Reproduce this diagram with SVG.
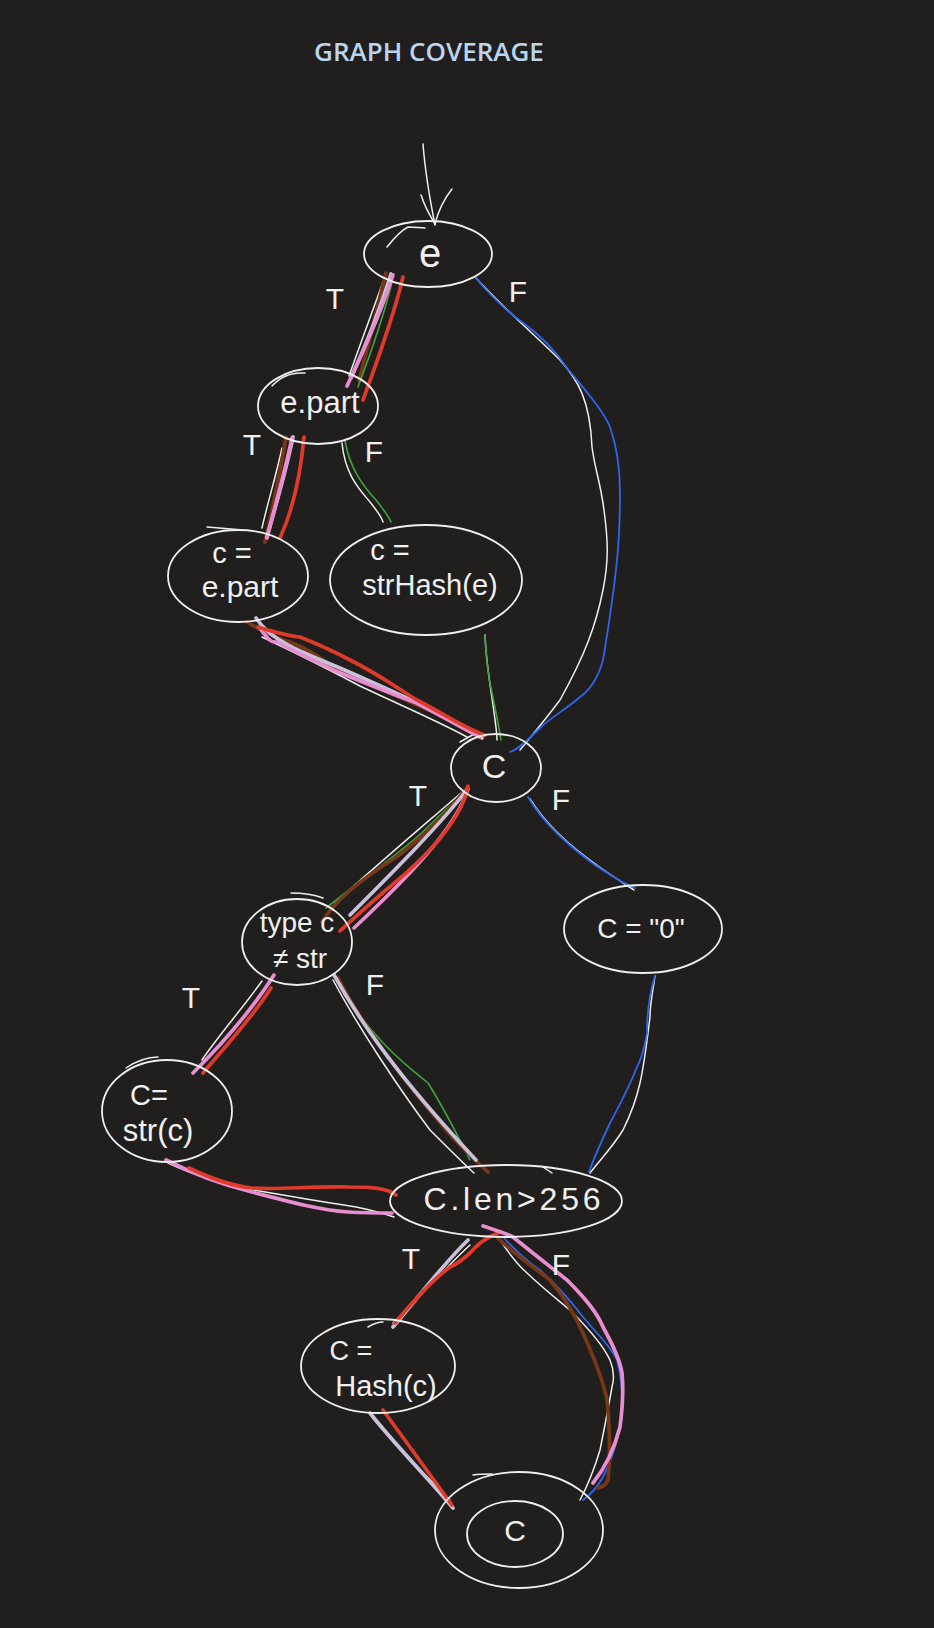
<svg xmlns="http://www.w3.org/2000/svg" width="934" height="1628" viewBox="0 0 934 1628">
<style>
.bg{fill:#201f1e}
.title{font-family:"Open Sans","Liberation Sans",sans-serif;font-size:26px;font-weight:600;fill:#bcd5ee}
.node{fill:none;stroke:#efefef;stroke-width:1.8}
.hw{font-family:"Liberation Sans","DejaVu Sans",sans-serif;fill:#f0f0f0;text-anchor:middle}
.lbl{font-family:"Liberation Sans","DejaVu Sans",sans-serif;font-size:30px;fill:#f0f0f0;text-anchor:middle}
.e{fill:none;stroke-linecap:round;stroke-linejoin:round}
.w{stroke:#eeeeee;stroke-width:1.5}
.bl{stroke:#2e66ee;stroke-width:1.8}
.gr{stroke:#3da43a;stroke-width:1.6}
.rd{stroke:#df3a2a;stroke-width:3.7}
.pk{stroke:#e88ed0;stroke-width:3.7}
.br{stroke:#783818;stroke-width:3.7}
.lv{stroke:#c9c1da;stroke-width:3.7}
</style>
<rect class="bg" x="0" y="0" width="934" height="1628"/>
<text class="title" x="429" y="61" text-anchor="middle">GRAPH COVERAGE</text>

<g id="connectors">
  <!-- entry arrow -->
  <path class="e w" d="M423,144 C425,170 430,200 435,225"/>
  <path class="e w" d="M421,195 C425,207 430,216 435,224"/>
  <path class="e w" d="M452,189 C444,199 438,212 435,224"/>

  <!-- e -> e.part (T) -->
  <path class="e w" d="M383,282 C372,312 360,345 349,376"/>
  <path class="e br" d="M386,273 C378,305 368,345 359,381"/>
  <path class="e lv" d="M391,274 C381,306 366,345 351,378"/>
  <path class="e gr" d="M392,282 C383,320 370,355 358,387"/>
  <path class="e pk" d="M393,275 C382,310 364,350 347,386"/>
  <path class="e rd" d="M403,277 C395,312 377,362 363,400"/>

  <!-- e -> C (F) -->
  <path class="e w" d="M475,277 C505,310 535,335 560,360 C578,380 590,400 592,447 C595,470 600,480 604,510 C608,540 609,560 603,590 C596,625 585,655 560,700 C545,720 530,738 520,750"/>
  <path class="e bl" d="M475,277 C490,295 505,310 522,322 C540,335 555,350 567,368 C585,390 603,410 610,427 C618,450 620,470 620,493 C620,520 619,540 617,560 C613,600 608,630 603,660 C598,678 590,690 580,697 C565,710 550,718 540,728 C530,738 518,750 510,752"/>

  <!-- e.part -> c=e.part (T) -->
  <path class="e w" d="M282,448 C275,480 267,505 262,528"/>
  <path class="e br" d="M286,437 C280,475 272,510 265,542"/>
  <path class="e lv" d="M293,437 C285,475 275,508 267,537"/>
  <path class="e pk" d="M292,438 C284,476 274,510 267,538"/>
  <path class="e rd" d="M304,437 C300,480 292,512 280,538"/>

  <!-- e.part -> strHash (F) -->
  <path class="e w" d="M342,443 C345,475 360,490 370,502 C378,512 382,518 383,522"/>
  <path class="e gr" d="M345,441 C350,470 365,488 376,500 C384,510 389,517 391,522"/>

  <!-- c=e.part -> C -->
  <path class="e w" d="M262,637 C300,655 330,670 360,686 C400,705 440,722 467,737"/>
  <path class="e w" d="M460,742 L476,733"/>
  <path class="e br" d="M247,622 C260,630 275,638 290,642 C310,650 320,658 333,667 C380,690 420,705 450,720 C460,726 466,730 470,732"/>
  <path class="e lv" d="M256,618 C270,640 300,652 340,668 C390,690 440,712 482,738"/>
  <path class="e pk" d="M260,628 C268,640 272,643 277,642 C300,655 320,663 333,670 C370,685 400,697 417,703 C440,715 460,727 480,737"/>
  <path class="e rd" d="M258,627 C275,632 288,636 300,637 C320,645 335,652 350,660 C380,675 400,690 417,700 C440,712 460,725 477,732 C482,734 486,736 485,735"/>

  <!-- strHash -> C -->
  <path class="e w" d="M485,635 C486,660 490,685 493,705 C495,720 497,732 497,740"/>
  <path class="e gr" d="M485,635 C486,660 489,680 492,693 C496,712 499,728 501,740"/>

  <!-- C -> type (T) -->
  <path class="e w" d="M461,793 C430,820 380,862 335,903"/>
  <path class="e gr" d="M461,795 C440,815 425,830 417,837 C390,860 355,885 326,908"/>
  <path class="e br" d="M467,788 C445,815 420,840 395,858 C360,880 335,900 322,922"/>
  <path class="e lv" d="M466,791 C440,825 390,875 350,915"/>
  <path class="e pk" d="M468,789 C455,830 405,880 354,928"/>
  <path class="e rd" d="M468,786 C462,820 425,858 392,885 C368,905 352,920 340,931"/>

  <!-- C -> C="0" (F) -->
  <path class="e w" d="M530,799 C548,828 575,850 598,866 C612,876 625,884 634,890"/>
  <path class="e bl" d="M528,797 C545,826 572,848 595,865 C610,875 624,884 635,888"/>

  <!-- type -> str(c) (T) -->
  <path class="e w" d="M262,981 C245,1005 215,1040 202,1060"/>
  <path class="e pk" d="M274,975 C252,1010 218,1048 193,1073"/>
  <path class="e rd" d="M271,988 C252,1018 224,1048 203,1073"/>

  <!-- type -> c.len (F) -->
  <path class="e w" d="M333,980 C360,1030 400,1090 430,1130 C450,1150 465,1165 474,1173"/>
  <path class="e gr" d="M336,978 C370,1040 410,1068 428,1083 C445,1110 460,1140 470,1160"/>
  <path class="e br" d="M338,978 C370,1040 420,1100 455,1140 C470,1155 480,1165 488,1172"/>
  <path class="e lv" d="M334,975 C370,1040 420,1100 476,1160"/>

  <!-- C="0" -> c.len -->
  <path class="e w" d="M655,976 C652,995 650,1005 650,1017 C646,1050 643,1070 640,1083 C635,1105 628,1120 623,1130 C612,1148 598,1162 590,1173"/>
  <path class="e bl" d="M655,976 C649,995 647,1015 647,1033 C644,1050 641,1060 637,1067 C628,1090 618,1108 610,1123 C602,1140 594,1158 589,1172"/>

  <!-- str(c) -> c.len -->
  <path class="e w" d="M168,1163 C200,1178 240,1188 271,1193 C300,1198 330,1203 356,1207 C372,1210 385,1214 394,1217"/>
  <path class="e pk" d="M166,1160 C195,1175 225,1185 252,1192 C290,1202 320,1210 348,1212 C365,1213 380,1213 392,1213"/>
  <path class="e rd" d="M189,1168 C210,1178 232,1186 252,1188 C280,1190 310,1186 348,1187 C370,1187 388,1188 396,1195"/>

  <!-- c.len -> hash(c) (T) -->
  <path class="e w" d="M470,1245 C448,1265 425,1292 393,1323"/>
  <path class="e lv" d="M468,1240 C445,1262 420,1295 393,1327"/>
  <path class="e rd" d="M498,1233 C485,1238 475,1247 470,1253 C460,1262 455,1265 450,1267 C432,1280 410,1305 395,1323"/>

  <!-- c.len -> final (F) -->
  <path class="e w" d="M500,1240 C510,1255 518,1265 527,1273 C545,1290 558,1300 570,1310 C590,1330 603,1345 610,1360 C615,1372 614,1380 612,1387 C608,1410 604,1430 600,1450 C594,1470 588,1485 580,1500"/>
  <path class="e bl" d="M503,1237 C515,1250 528,1262 540,1270 C557,1285 570,1300 583,1317 C598,1335 610,1345 617,1360 C622,1380 623,1400 622,1417 C618,1440 612,1460 603,1477 C597,1488 590,1495 583,1500"/>
  <path class="e br" d="M498,1238 C515,1255 535,1268 550,1280 C565,1298 575,1315 583,1333 C595,1360 603,1380 607,1400 C610,1430 610,1460 608,1480 C606,1485 602,1487 598,1488"/>
  <path class="e pk" d="M483,1226 C495,1230 505,1233 513,1237 C535,1255 552,1268 567,1280 C585,1298 597,1312 603,1327 C613,1345 620,1360 622,1373 C624,1395 622,1412 620,1427 C614,1450 605,1468 593,1483"/>

  <!-- hash(c) -> final -->
  <path class="e w" d="M372,1417 C395,1445 425,1475 450,1500"/>
  <path class="e lv" d="M370,1413 C395,1445 430,1480 453,1508"/>
  <path class="e rd" d="M383,1410 C405,1440 430,1475 452,1505"/>
</g>

<g id="node-e">
  <ellipse class="node" cx="428" cy="254" rx="64" ry="33"/>
  <path class="e w" d="M387,247 C395,237 402,230 408,227 C415,227 420,228 425,228"/>
  <text class="hw" x="430" y="267" font-size="40">e</text>
</g>
<g id="node-epart">
  <ellipse class="node" cx="318" cy="406" rx="60" ry="38"/>
  <path class="e w" d="M272,386 C280,377 290,372 305,373"/>
  <text class="hw" x="320" y="413" font-size="31">e.part</text>
</g>
<g id="node-c-epart">
  <ellipse class="node" cx="238" cy="576" rx="70" ry="46"/>
  <path class="e w" d="M207,527 L243,530"/>
  <text class="hw" x="232" y="563" font-size="29">c =</text>
  <text class="hw" x="240" y="597" font-size="30">e.part</text>
</g>
<g id="node-strhash">
  <ellipse class="node" cx="426" cy="580" rx="96" ry="55"/>
  <text class="hw" x="390" y="560" font-size="29">c =</text>
  <text class="hw" x="430" y="595" font-size="29">strHash(e)</text>
</g>
<g id="node-C">
  <ellipse class="node" cx="496" cy="768" rx="45" ry="34"/>
  <text class="hw" x="494" y="778" font-size="34">C</text>
</g>
<g id="node-type">
  <ellipse class="node" cx="297" cy="942" rx="55" ry="43"/>
  <path class="e w" d="M291,893 C305,893 315,895 323,898"/>
  <text class="hw" x="297" y="932" font-size="28">type c</text>
  <text class="hw" x="300" y="968" font-size="28">≠ str</text>
</g>
<g id="node-c0">
  <ellipse class="node" cx="643" cy="929" rx="79" ry="44"/>
  <text class="hw" x="641" y="938" font-size="28">C = "0"</text>
</g>
<g id="node-strc">
  <ellipse class="node" cx="167" cy="1111" rx="65" ry="51"/>
  <path class="e w" d="M126,1068 C138,1060 148,1057 158,1057"/>
  <text class="hw" x="149" y="1105" font-size="29">C=</text>
  <text class="hw" x="158" y="1141" font-size="31">str(c)</text>
</g>
<g id="node-clen">
  <ellipse class="node" cx="506" cy="1201" rx="116" ry="36"/>
  <path class="e w" d="M543,1167 L552,1173"/>
  <text class="hw" x="512" y="1210" font-size="32" textLength="177" lengthAdjust="spacing">C.len&gt;256</text>
</g>
<g id="node-hashc">
  <ellipse class="node" cx="378" cy="1366" rx="77" ry="47"/>
  <path class="e w" d="M368,1327 C373,1324 378,1322 383,1322"/>
  <text class="hw" x="351" y="1360" font-size="27">C =</text>
  <text class="hw" x="386" y="1396" font-size="29">Hash(c)</text>
</g>
<g id="node-final">
  <ellipse class="node" cx="519" cy="1530" rx="84" ry="58"/>
  <ellipse class="node" cx="515" cy="1534" rx="48" ry="33"/>
  <path class="e w" d="M473,1475 C480,1474 486,1474 492,1474"/>
  <text class="hw" x="515" y="1541" font-size="30">C</text>
</g>

<g id="labels">
  <text class="lbl" x="335" y="309">T</text>
  <text class="lbl" x="518" y="302">F</text>
  <text class="lbl" x="252" y="455">T</text>
  <text class="lbl" x="374" y="462">F</text>
  <text class="lbl" x="418" y="806">T</text>
  <text class="lbl" x="561" y="810">F</text>
  <text class="lbl" x="191" y="1008">T</text>
  <text class="lbl" x="375" y="995">F</text>
  <text class="lbl" x="411" y="1269">T</text>
  <text class="lbl" x="561" y="1275">F</text>
</g>
</svg>
